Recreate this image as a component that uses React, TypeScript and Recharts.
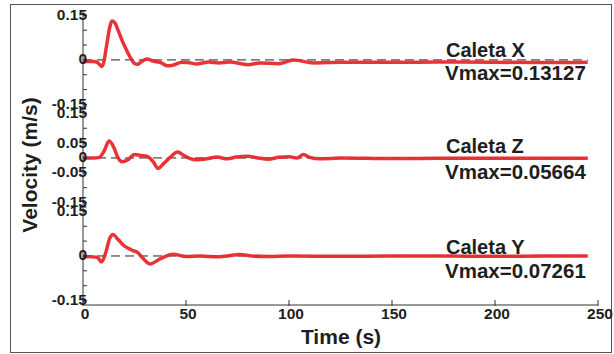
import React from "react";
import { LineChart, Line, XAxis, YAxis, ReferenceLine } from "recharts";

// ---- Data ----
const T_X = [0, 5, 7, 9, 10, 11.5, 13, 14, 15.5, 17, 19, 21, 23, 25, 26.5, 28, 31, 34, 38, 41, 44, 48, 52, 55, 61, 66, 71, 80, 86, 95, 102, 112, 125, 150, 175, 200, 225, 245];
const V_X = [-0.005, -0.005, -0.008, -0.022, -0.01, 0.05, 0.11, 0.131, 0.125, 0.1, 0.065, 0.035, 0.008, -0.012, -0.015, -0.008, 0.003, -0.004, -0.01, -0.02, -0.017, -0.008, -0.01, -0.014, -0.007, -0.01, -0.007, -0.016, -0.01, -0.013, 0.0, -0.01, -0.008, -0.008, -0.007, -0.008, -0.009, -0.008];

const T_Z = [0, 5, 8, 10, 12.7, 15, 17, 19, 22, 25, 28, 31, 34, 36.5, 39, 42, 46, 49, 52, 55, 60, 65, 70, 75, 80, 85, 90, 95, 100, 104, 107, 110, 115, 125, 150, 175, 200, 225, 245];
const V_Z = [0, 0, 0.002, 0.02, 0.057, 0.035, 0.0, -0.013, -0.005, 0.012, 0.008, 0.006, -0.012, -0.035, -0.02, 0.0, 0.02, 0.008, -0.002, -0.006, -0.003, 0.003, -0.003, 0.004, 0.006, 0.0, -0.004, 0.002, 0.004, 0.0, 0.012, 0.002, -0.003, 0.0, -0.002, -0.001, -0.001, -0.001, -0.001];

const T_Y = [0, 5, 7, 9, 11, 13, 14.6, 16.5, 19.5, 23.6, 26.8, 29, 32.5, 37.4, 43.7, 50, 57, 65, 70, 76, 82, 90, 100, 125, 150, 175, 200, 225, 245];
const V_Y = [-0.002, -0.003, -0.005, -0.02, 0.01, 0.06, 0.0726, 0.06, 0.037, 0.02, 0.01, -0.007, -0.027, -0.01, 0.006, -0.002, 0, -0.003, 0.0, 0.005, 0.0, -0.002, 0.0, -0.001, 0.0, 0.0, -0.001, 0.0, 0.0];

const PANEL_NAMES = ["Caleta X", "Caleta Z", "Caleta Y"];
const PANEL_VMAX = ["Vmax=0.13127", "Vmax=0.05664", "Vmax=0.07261"];
const PANEL_OFFSETS = [0.66, 0.33, 0];
const PANEL_TICK_STEPS = [-0.15, -0.1, -0.05, 0, 0.05, 0.1, 0.15];
const PANEL_TICK_LABELS: Record<string, string>[] = [
  { "0.15": "0.15", "0.00": "0", "-0.15": "-0.15" },
  { "0.15": "0.15", "0.05": "0.05", "0.00": "0", "-0.05": "-0.05", "-0.15": "-0.15" },
  { "0.15": "0.15", "0.00": "0", "-0.15": "-0.15" },
];
const X_TICKS = [0, 50, 100, 150, 200, 250];
const X_LABEL = "Time (s)";
const Y_LABEL = "Velocity (m/s)";

// ---- Build tables ----
const build = (ts: number[], vs: number[], off: number) =>
  ts.map((t, i) => ({ t, v: +(vs[i] + off).toFixed(5) }));
const SERIES = [
  build(T_X, V_X, PANEL_OFFSETS[0]),
  build(T_Z, V_Z, PANEL_OFFSETS[1]),
  build(T_Y, V_Y, PANEL_OFFSETS[2]),
];

const Y_TICKS: number[] = [];
const Y_LABEL_MAP: Record<string, string> = {};
PANEL_OFFSETS.forEach((off, p) => {
  PANEL_TICK_STEPS.forEach((s) => {
    const val = +(off + s).toFixed(4);
    Y_TICKS.push(val);
    const key = s.toFixed(2) === "-0.00" ? "0.00" : s.toFixed(2);
    const lab = PANEL_TICK_LABELS[p][key];
    if (lab) Y_LABEL_MAP[val.toFixed(4)] = lab;
  });
});
Y_TICKS.sort((a, b) => a - b);

const TEXT = "#1e1e1e";
const AXIS = "#333";
const FONT = "'Liberation Sans', Arial, sans-serif";
const RED = "#e8282c";

const YTick = (props: any) => {
  const { x, y, payload } = props;
  const lab = Y_LABEL_MAP[(+payload.value).toFixed(4)];
  return (
    <g>
      <line x1={x} x2={x + 4} y1={y} y2={y} stroke={AXIS} strokeWidth={1} />
      {lab ? (
        <text x={x + 4} y={y + 4.5} textAnchor="end" fontFamily={FONT} fontWeight="bold" fontSize={15.5} fill={TEXT}>
          {lab}
        </text>
      ) : null}
    </g>
  );
};

const XTick = (props: any) => {
  const { x, y, payload } = props;
  return (
    <g>
      <line x1={x} x2={x} y1={y - 5} y2={y + 1} stroke={AXIS} strokeWidth={1} />
      <text x={x + 2} y={y + 14} textAnchor="middle" fontFamily={FONT} fontWeight="bold" fontSize={15.5} fill={TEXT}>
        {payload.value}
      </text>
    </g>
  );
};

const LABEL_POS = [
  { y1: 57, y2: 80 },
  { y1: 153, y2: 179 },
  { y1: 254, y2: 278 },
];

export default function App() {
  return (
    <div style={{ position: "absolute", left: 0, top: 0, width: 614, height: 354, background: "#fff" }}>
      <div
        style={{
          position: "absolute",
          left: 10,
          top: 4,
          width: 600,
          height: 347,
          border: "1.5px solid #555",
        }}
      />
      <div style={{ position: "absolute", left: 0, top: 0 }}>
        <LineChart width={614} height={354} margin={{ top: 10, right: 16, bottom: 19, left: 0 }}>
          <XAxis
            type="number"
            dataKey="t"
            domain={[0, 250]}
            ticks={X_TICKS}
            interval={0}
            allowDataOverflow
            height={30}
            tickSize={0}
            tickMargin={0}
            tick={<XTick />}
            axisLine={{ stroke: AXIS, strokeWidth: 1 }}
            tickLine={false}
          />
          <YAxis
            type="number"
            domain={[-0.165, 0.828]}
            ticks={Y_TICKS}
            interval={0}
            allowDataOverflow
            width={83}
            tickSize={0}
            tickMargin={0}
            tick={<YTick />}
            axisLine={{ stroke: AXIS, strokeWidth: 1 }}
            tickLine={false}
          />
          {PANEL_OFFSETS.map((off, i) => (
            <ReferenceLine
              key={"r" + i}
              segment={[{ x: 0, y: off }, { x: 245, y: off }]}
              stroke="#222"
              strokeWidth={1}
              strokeDasharray="9 5"
            />
          ))}
          {SERIES.map((d, i) => (
            <Line
              key={"l" + i}
              data={d}
              dataKey="v"
              type="monotone"
              stroke={RED}
              strokeWidth={3.5}
              strokeOpacity={0.95}
              dot={false}
              isAnimationActive={false}
            />
          ))}
        </LineChart>
      </div>
      <svg width={614} height={354} style={{ position: "absolute", left: 0, top: 0, pointerEvents: "none" }}>
        {PANEL_NAMES.map((n, i) => (
          <g key={n}>
            <text x={446} y={LABEL_POS[i].y1} fontFamily={FONT} fontWeight="bold" fontSize={20} fill={TEXT}>
              {n}
            </text>
            <text x={445} y={LABEL_POS[i].y2} fontFamily={FONT} fontWeight="bold" fontSize={20.5} fill={TEXT}>
              {PANEL_VMAX[i]}
            </text>
          </g>
        ))}
        <text x={341} y={344} textAnchor="middle" fontFamily={FONT} fontWeight="bold" fontSize={21} fill={TEXT}>
          {X_LABEL}
        </text>
        <text
          x={37}
          y={165}
          textAnchor="middle"
          transform="rotate(-90, 37, 165)"
          fontFamily={FONT}
          fontWeight="bold"
          fontSize={21}
          fill={TEXT}
        >
          {Y_LABEL}
        </text>
      </svg>
    </div>
  );
}
